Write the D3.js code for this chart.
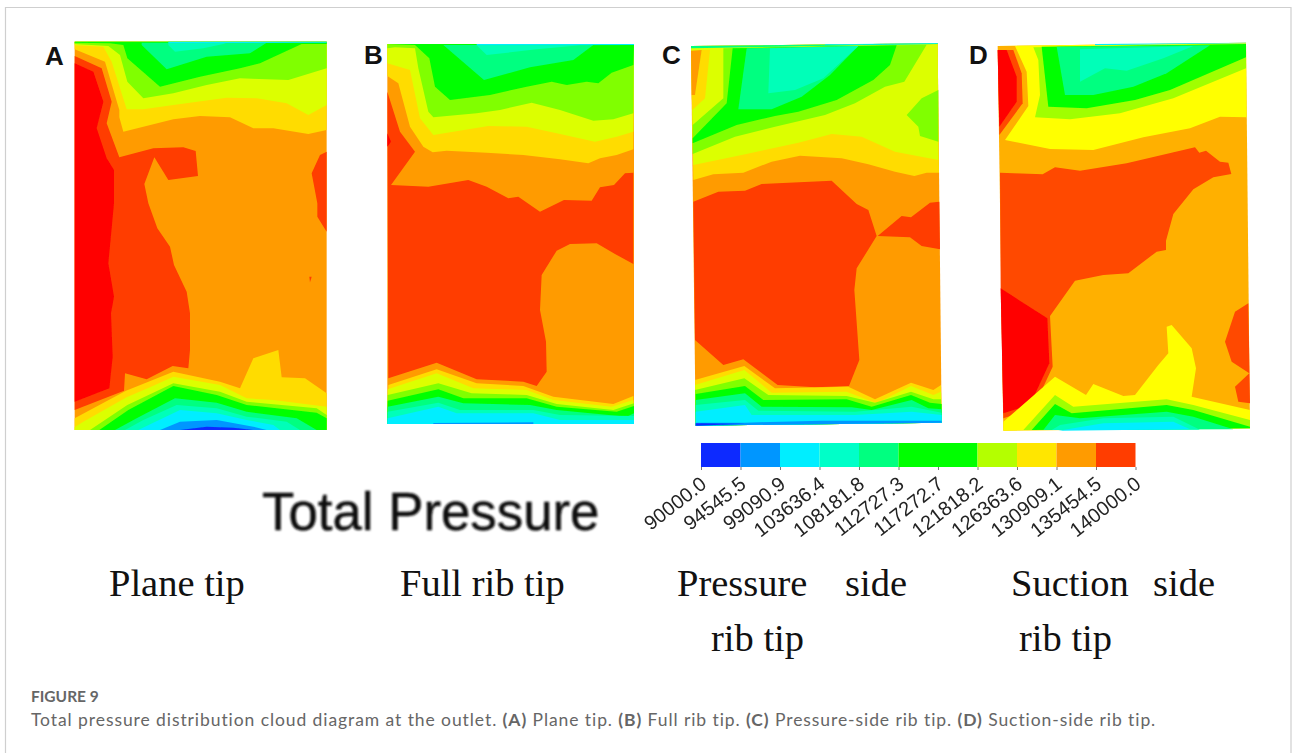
<!DOCTYPE html>
<html>
<head>
<meta charset="utf-8">
<script src="https://cdnjs.cloudflare.com/ajax/libs/d3/7.8.5/d3.min.js"></script>
<style>
  html, body { margin: 0; padding: 0; background: #fff; }
  svg { display: block; }
</style>
</head>
<body>
<div id="canvas"></div>
<script>
const svgWidth = 1292;
const svgHeight = 753;

// Colour bar
const pressureTicks = [90000.0, 94545.5, 99090.9, 103636.4, 108181.8, 112727.3, 117272.7, 121818.2, 126363.6, 130909.1, 135454.5, 140000.0];
const legendColors = ['#0a2bff', '#0096ff', '#00eeff', '#00ffc8', '#00ff80', '#00ff00', '#00ff00', '#b4ff00', '#ffe600', '#ff9b00', '#ff3c00'];

// Contour levels seen in the panels
const blue = '#0a2bff', sky = '#0096ff', cyan = '#00eeff', aqua = '#00ffb8', spring = '#00ff80', green = '#00ff00',
      lime = '#80ff00', chart = '#dcff00', yellow = '#ffdc00', orange = '#ff9b00', ember = '#ff3c00', red = '#ff0000';
const limeD = '#a0ff00', yellowD = '#ffff00', amberD = '#ffb000', emberD = '#ff4800';

// Bands are painted in order, each one over the last. Points are in mesh units.
const bandsA = [
  [orange, [[104,35],[860,35],[860,1200],[104,1200]]],
  [ember, [[104,78],[185,115],[215,215],[200,280],[238,382],[340,355],[430,352],[467,363],[474,438],[385,450],[343,382],[313,462],[325,520],[352,595],[390,650],[402,705],[440,785],[450,850],[450,960],[445,1015],[398,1008],[320,1048],[255,1030],[252,1082],[104,1140]]],
  [red, [[104,100],[160,125],[190,215],[170,295],[200,385],[222,420],[222,520],[205,700],[222,800],[213,850],[218,980],[208,1075],[104,1115]]],
  [ember, [[860,365],[840,375],[815,430],[832,520],[832,560],[860,605]]],
  [ember, [[808,740],[815,740],[810,757]]],
  [yellow, [[104,35],[860,35],[860,300],[805,312],[700,295],[640,295],[570,262],[480,258],[400,268],[250,305],[238,262],[238,240],[195,95],[104,58]]],
  [chart, [[104,35],[860,35],[860,225],[805,255],[740,220],[650,205],[560,203],[400,225],[310,238],[260,238],[215,95],[190,50],[104,46]]],
  [lime, [[104,35],[860,35],[860,115],[745,150],[600,145],[500,165],[400,190],[310,205],[262,155],[240,75],[205,48],[104,42]]],
  [green, [[104,35],[860,35],[860,42],[785,42],[660,100],[600,115],[480,140],[360,170],[262,85],[250,45],[210,40],[104,38]]],
  [spring, [[305,38],[680,38],[630,70],[500,80],[380,118],[305,45]]],
  [aqua, [[385,38],[560,38],[550,42],[490,55],[405,65],[385,45]]],
  [cyan, [[385,35],[860,35],[860,38],[560,39],[385,39]]],
  [yellow, [[104,1165],[258,1082],[400,1025],[540,1055],[600,1075],[640,985],[715,960],[725,1042],[795,1045],[860,1090],[860,1200],[104,1200]]],
  [chart, [[104,1192],[130,1175],[260,1102],[330,1072],[400,1040],[540,1065],[620,1105],[700,1110],[860,1130],[860,1200],[104,1200]]],
  [lime, [[150,1200],[262,1125],[400,1060],[540,1085],[620,1115],[830,1135],[860,1155],[860,1200]]],
  [green, [[178,1200],[265,1140],[400,1068],[530,1095],[620,1125],[830,1148],[860,1165],[860,1200]]],
  [spring, [[225,1200],[290,1165],[405,1105],[530,1118],[620,1145],[770,1165],[830,1200]]],
  [aqua, [[255,1200],[310,1170],[410,1125],[530,1135],[620,1160],[740,1175],[780,1200]]],
  [cyan, [[295,1200],[340,1178],[420,1140],[530,1150],[620,1170],[700,1185],[720,1200]]],
  [sky, [[360,1200],[420,1175],[530,1170],[640,1190],[680,1200]]],
  [blue, [[420,1200],[500,1190],[580,1193],[640,1200]]]
];

const bandsB = [
  [orange, [[82,42],[822,42],[822,1182],[82,1182]]],
  [ember, [[82,185],[120,305],[165,365],[93,465],[205,470],[325,450],[380,470],[445,505],[475,500],[540,545],[612,510],[695,512],[720,472],[762,465],[795,430],[820,428],[820,702],[765,672],[710,640],[630,642],[590,662],[545,735],[540,840],[558,935],[560,1025],[530,1068],[490,1055],[350,1048],[230,998],[85,1045]]],
  [red, [[82,310],[93,335],[82,350]]],
  [yellow, [[82,42],[822,42],[820,358],[770,375],[720,385],[685,400],[600,388],[490,375],[380,368],[260,362],[218,367],[190,350],[150,290],[115,160],[82,138]]],
  [chart, [[82,42],[822,42],[820,305],[770,320],[705,335],[590,310],[500,290],[385,288],[220,315],[180,265],[150,120],[82,100]]],
  [lime, [[82,42],[822,42],[820,250],[760,268],[700,272],[600,240],[515,218],[420,240],[350,250],[220,262],[205,245],[175,115],[165,55],[105,52],[82,55]]],
  [green, [[82,42],[822,42],[820,105],[755,128],[715,160],[680,155],[620,165],[575,155],[500,170],[390,195],[270,210],[225,170],[208,85],[165,45]]],
  [spring, [[250,45],[700,45],[640,90],[510,112],[372,150]]],
  [aqua, [[350,46],[660,46],[530,58],[380,75]]],
  [cyan, [[350,42],[822,42],[822,45],[350,46]]],
  [yellow, [[85,1065],[230,1018],[350,1060],[490,1068],[580,1100],[760,1122],[820,1098],[822,1182],[82,1182]]],
  [chart, [[83,1078],[230,1030],[340,1075],[500,1080],[580,1110],[755,1130],[820,1110],[822,1182],[82,1182]]],
  [lime, [[83,1095],[235,1060],[335,1090],[500,1095],[590,1122],[760,1140],[822,1120],[822,1182],[82,1182]]],
  [green, [[83,1112],[235,1078],[310,1105],[500,1105],[590,1130],[770,1145],[822,1128],[822,1182],[82,1182]]],
  [spring, [[83,1130],[235,1100],[310,1120],[510,1125],[590,1140],[800,1160],[822,1150],[822,1182],[82,1182]]],
  [aqua, [[83,1145],[235,1118],[300,1140],[520,1140],[600,1155],[822,1158],[822,1182],[82,1182]]],
  [cyan, [[83,1165],[235,1130],[290,1150],[520,1150],[600,1170],[822,1170],[822,1182],[82,1182]]],
  [sky, [[220,1179],[520,1177],[520,1182],[220,1182]]]
];

const bandsC = [
  [orange, [[108,48],[848,40],[860,1178],[122,1187]]],
  [ember, [[115,515],[190,485],[270,482],[320,462],[530,452],[605,522],[640,540],[665,618],[605,715],[598,780],[613,990],[582,1068],[480,1072],[368,1065],[265,988],[205,1005],[120,930]]],
  [ember, [[668,618],[740,558],[768,562],[825,518],[853,515],[855,658],[800,648],[765,622]]],
  [yellow, [[108,48],[848,40],[852,428],[815,428],[778,438],[720,425],[640,403],[560,385],[435,377],[350,395],[265,428],[175,433],[115,450]]],
  [chart, [[108,48],[848,40],[850,390],[720,365],[620,320],[530,312],[430,338],[260,375],[115,405]]],
  [lime, [[113,285],[205,205],[205,55],[815,44],[748,155],[690,170],[600,220],[510,255],[360,290],[240,320],[113,372]]],
  [green, [[113,325],[215,220],[233,55],[725,46],[705,105],[655,150],[545,210],[430,245],[360,258],[245,285],[113,340]]],
  [spring, [[250,238],[275,55],[610,48],[525,135],[440,200],[350,238]]],
  [aqua, [[340,190],[345,55],[610,48],[505,145],[420,180]]],
  [lime, [[850,180],[800,205],[755,255],[790,290],[795,318],[850,335]]],
  [yellow, [[140,60],[165,60],[150,205],[112,240],[110,195],[120,195]]],
  [orange, [[108,62],[140,60],[120,195],[110,195]]],
  [spring, [[108,48],[848,40],[848,42],[108,55]]],
  [cyan, [[510,43],[848,40],[848,42],[510,45]]],
  [yellow, [[120,1050],[268,1008],[360,1075],[580,1070],[660,1108],[768,1058],[835,1080],[858,1065],[860,1178],[122,1187]]],
  [chart, [[120,1065],[268,1020],[350,1088],[575,1085],[665,1120],[768,1068],[835,1095],[858,1085],[860,1178],[122,1187]]],
  [lime, [[120,1080],[268,1045],[340,1095],[575,1098],[660,1118],[768,1085],[835,1108],[858,1108],[860,1178],[122,1187]]],
  [green, [[122,1092],[270,1068],[325,1110],[575,1108],[650,1130],[768,1095],[825,1118],[860,1122],[860,1178],[122,1187]]],
  [spring, [[122,1110],[270,1090],[320,1130],[590,1132],[650,1140],[770,1110],[820,1135],[860,1138],[860,1178],[122,1187]]],
  [aqua, [[122,1125],[270,1110],[310,1142],[600,1145],[770,1130],[860,1148],[860,1178],[122,1187]]],
  [cyan, [[122,1145],[270,1125],[290,1155],[600,1155],[770,1145],[860,1155],[860,1178],[122,1187]]],
  [sky, [[122,1178],[270,1178],[500,1172],[860,1172],[860,1178],[122,1187]]],
  [blue, [[122,1180],[270,1181],[122,1187]]]
];

const bandsD = [
  [amberD, [[113,48],[858,38],[870,1195],[130,1202]]],
  [emberD, [[120,428],[248,433],[285,412],[360,422],[500,400],[705,352],[718,368],[738,362],[780,395],[805,398],[814,432],[760,442],[700,478],[640,552],[618,632],[618,660],[590,665],[505,730],[430,735],[345,752],[270,858],[278,1010],[220,1135],[130,1165],[122,775]]],
  [red, [[122,775],[262,865],[268,1000],[210,1125],[130,1150]]],
  [emberD, [[865,820],[825,845],[795,935],[815,995],[868,1030],[825,1070],[835,1115],[870,1120]]],
  [yellowD, [[113,48],[858,38],[860,262],[780,260],[690,295],[550,322],[400,360],[270,357],[135,330],[205,228],[200,125],[165,48]]],
  [limeD, [[220,52],[858,42],[858,115],[640,205],[480,250],[330,268],[225,262],[240,195],[235,90]]],
  [green, [[245,50],[858,42],[858,82],[630,180],[525,210],[380,235],[265,230]]],
  [spring, [[290,50],[750,46],[620,130],[520,170],[400,195],[315,195]]],
  [aqua, [[360,58],[700,48],[610,85],[500,122],[435,115],[360,155]]],
  [cyan, [[405,42],[858,38],[858,40],[405,46]]],
  [emberD, [[113,60],[160,60],[185,130],[188,220],[118,315]]],
  [red, [[113,60],[140,60],[170,140],[170,215],[118,290]]],
  [yellowD, [[130,1175],[285,1040],[378,1095],[400,1062],[490,1098],[525,1095],[595,1005],[625,970],[620,890],[635,885],[695,955],[708,1015],[695,1100],[870,1140],[870,1195],[130,1202]]],
  [limeD, [[190,1200],[285,1095],[340,1130],[620,1108],[700,1125],[870,1170],[870,1195]]],
  [green, [[215,1200],[285,1122],[335,1150],[620,1125],[700,1140],[870,1190],[870,1195]]],
  [spring, [[250,1200],[285,1155],[360,1165],[620,1145],[700,1160],[820,1198]]],
  [aqua, [[275,1200],[300,1185],[430,1165],[640,1160],[720,1199]]],
  [cyan, [[295,1202],[430,1180],[640,1175],[690,1198]]]
];

const panelNames = ['A', 'B', 'C', 'D'];
const panelBands = [bandsA, bandsB, bandsC, bandsD];
// mesh window of each panel and the page area it lands on
const meshX = [0, 300];
const meshY = [0, 300];
const pageLeft = [40, 360, 655, 960];
const pageTop = 30;
const letterX = [45, 364, 662, 969];

const tipLabels = [
  ['Plane tip', 109, 596], ['Full rib tip', 400, 596],
  ['Pressure', 677, 596], ['side', 845, 596], ['rib tip', 711, 651],
  ['Suction', 1011, 596], ['side', 1153, 596], ['rib tip', 1019, 651]
];

const svg = d3.select('#canvas').append('svg')
  .attr('width', svgWidth)
  .attr('height', svgHeight);

const defs = svg.append('defs');
defs.append('filter').attr('id', 'soft').append('feGaussianBlur').attr('stdDeviation', 0.45);
defs.append('filter').attr('id', 'softer').append('feGaussianBlur').attr('stdDeviation', 0.8);

// outer frame, open at the bottom
svg.append('path')
  .attr('d', `M5.5,${svgHeight} V7.5 H1291 V${svgHeight}`)
  .attr('fill', 'none')
  .attr('stroke', '#cfcfcf')
  .attr('stroke-width', 1.2);

// Contour panels
const polygon = d3.line();
panelBands.forEach((bands, i) => {
  const x = d3.scaleLinear().domain(meshX).range([pageLeft[i], pageLeft[i] + 100]);
  const y = d3.scaleLinear().domain(meshY).range([pageTop, pageTop + 100]);
  const g = svg.append('g').attr('class', 'panel').attr('filter', 'url(#soft)');
  g.selectAll('path')
    .data(bands)
    .join('path')
    .attr('d', d => polygon(d[1].map(p => [x(p[0]), y(p[1])])) + 'Z')
    .attr('fill', d => d[0]);

  svg.append('text')
    .attr('x', letterX[i])
    .attr('y', i === 0 ? 65 : 64)
    .attr('font-family', '"Liberation Sans", Arial, sans-serif')
    .attr('font-weight', 700)
    .attr('font-size', 26)
    .attr('fill', '#111')
    .text(panelNames[i]);
});

// Colour bar, ticks at the listed pressures
const legendX = d3.scaleLinear()
  .domain([pressureTicks[0], pressureTicks[pressureTicks.length - 1]])
  .range([701, 1135.5]);
const legendTop = 443;
const legendBottom = 467;

const legend = svg.append('g').attr('filter', 'url(#soft)');
legend.selectAll('rect')
  .data(legendColors)
  .join('rect')
  .attr('x', (d, i) => legendX(pressureTicks[i]))
  .attr('y', legendTop)
  .attr('width', (d, i) => legendX(pressureTicks[i + 1]) - legendX(pressureTicks[i]))
  .attr('height', legendBottom - legendTop)
  .attr('fill', d => d);

const legendAxis = d3.axisBottom(legendX)
  .tickValues(pressureTicks)
  .tickFormat(d3.format('.1f'))
  .tickSize(3)
  .tickPadding(3);

const axisG = legend.append('g')
  .attr('transform', `translate(0, ${legendBottom})`)
  .call(legendAxis);
axisG.select('.domain').remove();
axisG.selectAll('line').attr('stroke', '#777');
axisG.selectAll('text')
  .attr('font-family', '"Liberation Sans", Arial, sans-serif')
  .attr('font-size', 20)
  .attr('fill', '#222')
  .attr('text-anchor', 'end')
  .attr('dy', null)
  .attr('y', 0)
  .attr('transform', 'translate(2, 14) rotate(-38)')
  .attr('dominant-baseline', 'central');

svg.append('text')
  .attr('x', 262)
  .attr('y', 530)
  .attr('font-family', '"Liberation Sans", Arial, sans-serif')
  .attr('font-size', 52.8)
  .attr('fill', '#111')
  .attr('stroke', '#111')
  .attr('stroke-width', 0.5)
  .attr('filter', 'url(#softer)')
  .text('Total Pressure');

svg.selectAll('text.tip')
  .data(tipLabels)
  .join('text')
  .attr('class', 'tip')
  .attr('x', d => d[1])
  .attr('y', d => d[2])
  .attr('font-family', '"Liberation Serif", "Times New Roman", serif')
  .attr('font-size', 38.5)
  .attr('fill', '#111')
  .text(d => d[0]);

// Caption
svg.append('text')
  .attr('x', 31)
  .attr('y', 701.5)
  .attr('font-family', 'Lato, sans-serif')
  .attr('font-weight', 700)
  .attr('font-size', 15.5)
  .attr('fill', '#666')
  .text('FIGURE 9');

const caption = svg.append('text')
  .attr('x', 31)
  .attr('y', 726)
  .attr('font-family', 'Lato, sans-serif')
  .attr('font-size', 17.5)
  .attr('letter-spacing', 0.92)
  .attr('fill', '#666');
const captionParts = [
  ['Total pressure distribution cloud diagram at the outlet. ', 400], ['(A)', 700], [' Plane tip. ', 400],
  ['(B)', 700], [' Full rib tip. ', 400], ['(C)', 700], [' Pressure-side rib tip. ', 400], ['(D)', 700], [' Suction-side rib tip.', 400]
];
caption.selectAll('tspan')
  .data(captionParts)
  .join('tspan')
  .attr('font-weight', d => d[1])
  .text(d => d[0]);
</script>
</body>
</html>
